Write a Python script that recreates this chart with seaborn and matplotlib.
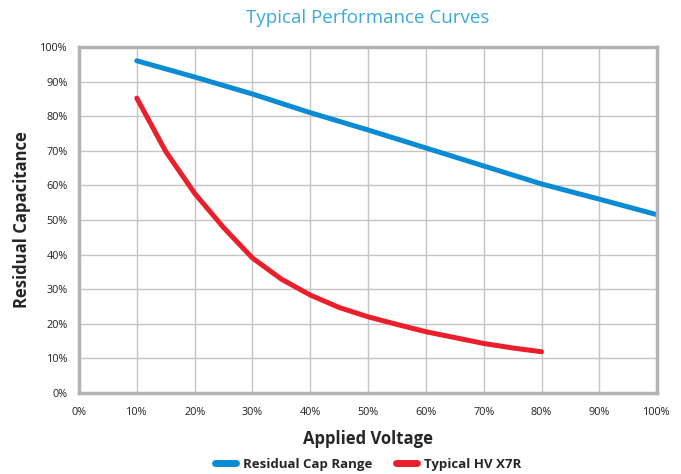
import pandas as pd
import seaborn as sns
import matplotlib.pyplot as plt
from matplotlib.ticker import PercentFormatter

# values (percent)
blue_x = [10, 20, 30, 40, 50, 60, 70, 80, 90, 100]
blue_y = [96.0, 91.3, 86.4, 81.0, 76.0, 70.8, 65.6, 60.4, 56.0, 51.5]

red_x = [10, 15, 20, 25, 30, 35, 40, 45, 50, 55, 60, 65, 70, 75, 80]
red_y = [85.2, 69.8, 57.7, 47.8, 39.0, 32.9, 28.3, 24.7, 22.0, 19.8, 17.7, 16.0, 14.3, 13.0, 11.9]

series_names = ["Residual Cap Range", "Typical HV X7R"]
colors = ["#0a8bd3", "#ea1f2b"]

df = pd.concat([
    pd.DataFrame({"Voltage": blue_x, "Cap": blue_y, "Series": series_names[0]}),
    pd.DataFrame({"Voltage": red_x, "Cap": red_y, "Series": series_names[1]}),
])

sns.set_style("white")
plt.rcParams["font.family"] = ["Open Sans", "DejaVu Sans"]

fig = plt.figure(figsize=(6.81, 4.74), dpi=100)
ax = fig.add_axes([0.116, 0.171, 0.849, 0.730])

sns.lineplot(data=df, x="Voltage", y="Cap", hue="Series",
             palette=dict(zip(series_names, colors)),
             linewidth=3.6, ax=ax, solid_capstyle="round", solid_joinstyle="round")

ax.set_xlim(0, 100)
ax.set_ylim(0, 100)
ax.set_xticks(range(0, 101, 10))
ax.set_yticks(range(0, 101, 10))
ax.xaxis.set_major_formatter(PercentFormatter(decimals=0))
ax.yaxis.set_major_formatter(PercentFormatter(decimals=0))
ax.tick_params(axis="both", length=0, labelsize=7.8, colors="#222222")
ax.tick_params(axis="x", pad=10)
ax.tick_params(axis="y", pad=8)

ax.grid(True, color="#c4c4c4", linewidth=1.0)
ax.set_axisbelow(True)
for s in ax.spines.values():
    s.set_visible(True)
    s.set_color("#b3b3b3")
    s.set_linewidth(2.5)

ax.set_xlabel("Applied Voltage", fontsize=12, fontweight="bold", labelpad=9)
ax.set_ylabel("Residual Capacitance", fontsize=12, fontweight="bold", labelpad=7)
fig.text(0.54, 0.962, "Typical Performance Curves", ha="center", va="center",
         fontsize=13.5, color="#3aa9de")

leg = ax.legend(loc="center", bbox_to_anchor=(0.5, -0.207), ncol=2,
                frameon=False, fontsize=9.5, handlelength=1.6,
                columnspacing=1.8, handletextpad=0.55, borderpad=0)
for t in leg.get_texts():
    t.set_fontweight("bold")
for h in leg.get_lines():
    h.set_linewidth(5)
    h.set_solid_capstyle("round")

fig.savefig("out.png", dpi=100)
